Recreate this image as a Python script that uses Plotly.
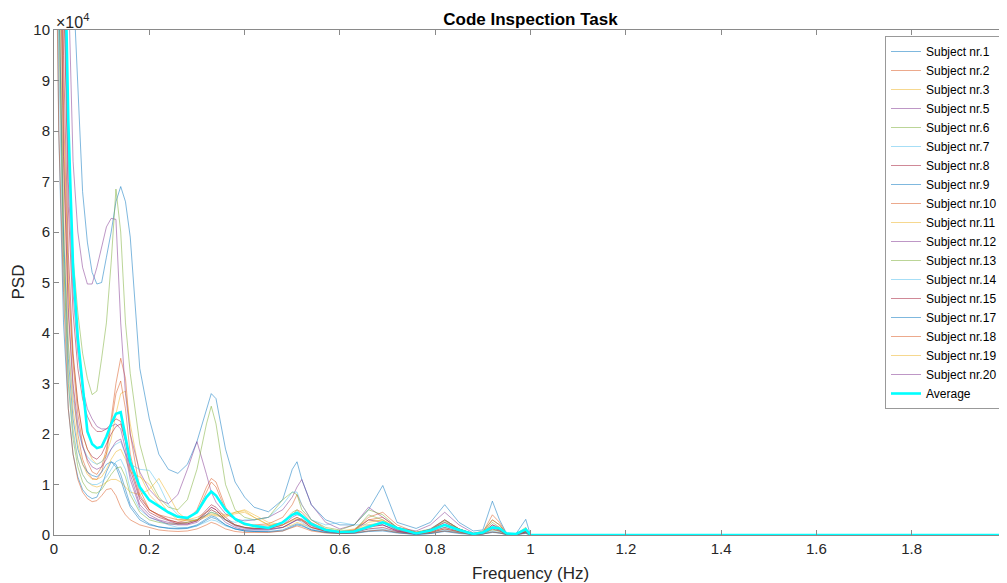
import plotly.graph_objects as go

# Frequency grid (Hz)
freq = [0, 0.01, 0.02, 0.03, 0.04, 0.05, 0.06, 0.07, 0.08, 0.09,
        0.10, 0.11, 0.12, 0.13, 0.14, 0.15, 0.16, 0.18, 0.20, 0.22,
        0.24, 0.26, 0.28, 0.30, 0.32, 0.33, 0.34, 0.36, 0.38, 0.40,
        0.42, 0.45, 0.48, 0.50, 0.51, 0.52, 0.54, 0.57, 0.60, 0.63,
        0.66, 0.69, 0.72, 0.76, 0.79, 0.82, 0.85, 0.88, 0.90, 0.92,
        0.935, 0.95, 0.97, 0.99, 1.0, 2.0]

# PSD values in units of 1e4
s1 = [60, 45, 30, 18, 11, 8.8, 6.8, 5.8, 5.2, 4.97,
      5.0, 5.5, 6.0, 6.6, 6.9, 6.6, 5.9, 3.3, 2.3, 1.6,
      1.3, 1.22, 1.4, 1.85, 2.5, 2.8, 2.7, 1.7, 1.05, 0.75,
      0.55, 0.46, 0.7, 1.3, 1.45, 1.1, 0.6, 0.3, 0.2, 0.2,
      0.5, 0.98, 0.25, 0.13, 0.25, 0.6, 0.25, 0.08, 0.1, 0.67,
      0.3, 0.03, 0.03, 0.31, 0, 0]
s2 = [35, 16, 8.5, 5.0, 3.4, 2.4, 1.8, 1.45, 1.25, 1.2,
      1.35, 1.7, 2.3, 3.0, 3.5, 3.1, 2.0, 0.9, 0.5, 0.38,
      0.3, 0.25, 0.3, 0.5, 0.95, 1.12, 1.05, 0.55, 0.3, 0.22,
      0.2, 0.22, 0.35, 0.6, 0.8, 0.6, 0.3, 0.12, 0.07, 0.1,
      0.3, 0.35, 0.15, 0.05, 0.1, 0.25, 0.12, 0.02, 0.05, 0.4,
      0.25, 0.02, 0.02, 0.12, 0, 0]
s3 = [28, 14, 8.0, 5.0, 3.5, 2.6, 2.0, 1.7, 1.5, 1.4,
      1.45, 1.6, 1.9, 2.4, 2.8, 2.85, 2.2, 1.2, 0.8, 0.6,
      0.45, 0.35, 0.3, 0.35, 0.45, 0.5, 0.45, 0.4, 0.45, 0.5,
      0.4, 0.25, 0.2, 0.3, 0.35, 0.3, 0.2, 0.12, 0.08, 0.12,
      0.3, 0.28, 0.12, 0.05, 0.1, 0.2, 0.1, 0.02, 0.04, 0.15,
      0.1, 0.02, 0.02, 0.08, 0, 0]
s5 = [45, 30, 15, 11, 7.4, 6.0, 5.3, 4.97, 4.97, 5.3,
      5.7, 6.1, 6.27, 6.25, 4.2, 2.8, 2.0, 1.25, 0.9, 0.7,
      0.62, 0.8, 1.3, 1.85, 1.2, 0.85, 0.65, 0.42, 0.32, 0.28,
      0.3, 0.35, 0.5, 0.75, 0.95, 1.1, 0.6, 0.25, 0.12, 0.2,
      0.55, 0.35, 0.15, 0.08, 0.2, 0.45, 0.2, 0.04, 0.06, 0.2,
      0.15, 0.02, 0.02, 0.12, 0, 0]
s6 = [30, 18, 11, 7.5, 5.5, 4.4, 3.6, 3.1, 2.78, 2.85,
      3.5, 4.2, 5.4, 6.85, 6.0, 4.2, 3.2, 1.8, 1.1, 0.75,
      0.55, 0.5, 0.7, 1.3, 2.2, 2.55, 2.2, 1.0, 0.5, 0.35,
      0.3, 0.35, 0.7, 0.85, 0.8, 0.5, 0.3, 0.15, 0.1, 0.2,
      0.5, 0.4, 0.15, 0.06, 0.12, 0.3, 0.12, 0.03, 0.08, 0.3,
      0.2, 0.02, 0.02, 0.15, 0, 0]
s7 = [22, 11, 6.0, 3.8, 2.7, 2.1, 1.75, 1.55, 1.45, 1.4,
      1.45, 1.55, 1.7, 1.8, 1.85, 1.6, 1.4, 1.3, 1.28, 1.0,
      0.6, 0.4, 0.3, 0.3, 0.4, 0.45, 0.42, 0.3, 0.25, 0.3,
      0.3, 0.35, 0.6, 0.85, 0.85, 0.6, 0.3, 0.2, 0.25, 0.2,
      0.2, 0.2, 0.1, 0.04, 0.08, 0.15, 0.08, 0.02, 0.03, 0.1,
      0.08, 0.01, 0.01, 0.05, 0, 0]
s8 = [40, 20, 11, 6.5, 4.4, 3.3, 2.7, 2.35, 2.15, 2.05,
      2.05, 2.1, 2.2, 2.3, 2.25, 1.9, 1.4, 0.75, 0.5, 0.4,
      0.3, 0.25, 0.25, 0.3, 0.5, 0.6, 0.55, 0.35, 0.2, 0.15,
      0.12, 0.12, 0.2, 0.3, 0.35, 0.3, 0.15, 0.08, 0.05, 0.06,
      0.15, 0.2, 0.08, 0.02, 0.06, 0.15, 0.07, 0.01, 0.03, 0.2,
      0.12, 0.01, 0.01, 0.07, 0, 0]
s9 = [18, 8.0, 4.2, 2.5, 1.6, 1.15, 0.9, 0.78, 0.72, 0.75,
      0.95, 1.25, 1.45, 1.4, 1.2, 0.9, 0.6, 0.35, 0.22, 0.16,
      0.13, 0.12, 0.13, 0.18, 0.3, 0.35, 0.32, 0.2, 0.12, 0.08,
      0.07, 0.07, 0.1, 0.18, 0.22, 0.2, 0.1, 0.05, 0.03, 0.04,
      0.08, 0.1, 0.05, 0.01, 0.03, 0.08, 0.04, 0.01, 0.02, 0.06,
      0.04, 0.01, 0.01, 0.04, 0, 0]
s10 = [32, 15, 7.5, 4.4, 2.9, 2.0, 1.5, 1.25, 1.12, 1.1,
       1.25, 1.6, 2.2, 2.8, 3.05, 2.5, 1.6, 0.8, 0.5, 0.4,
       0.35, 0.3, 0.32, 0.45, 0.85, 1.05, 0.95, 0.5, 0.3, 0.2,
       0.18, 0.18, 0.25, 0.4, 0.5, 0.45, 0.25, 0.1, 0.06, 0.1,
       0.35, 0.45, 0.2, 0.05, 0.1, 0.3, 0.12, 0.02, 0.05, 0.3,
       0.2, 0.02, 0.02, 0.1, 0, 0]
s11 = [20, 10, 5.5, 3.2, 2.1, 1.5, 1.2, 1.05, 0.98, 0.95,
       0.98, 1.05, 1.1, 1.1, 1.05, 0.95, 0.85, 0.8, 0.9, 1.12,
       0.8, 0.45, 0.3, 0.28, 0.35, 0.4, 0.38, 0.35, 0.45, 0.48,
       0.35, 0.2, 0.15, 0.2, 0.25, 0.22, 0.15, 0.08, 0.05, 0.08,
       0.2, 0.25, 0.1, 0.03, 0.06, 0.12, 0.06, 0.01, 0.03, 0.1,
       0.07, 0.01, 0.01, 0.06, 0, 0]
s12 = [45, 22, 12, 7.0, 4.8, 3.6, 2.9, 2.5, 2.3, 2.15,
       2.1, 2.1, 2.15, 2.2, 2.1, 1.7, 1.2, 0.6, 0.4, 0.3,
       0.25, 0.22, 0.22, 0.28, 0.45, 0.55, 0.5, 0.3, 0.18, 0.13,
       0.12, 0.13, 0.2, 0.35, 0.4, 0.38, 0.2, 0.08, 0.05, 0.08,
       0.3, 0.25, 0.1, 0.03, 0.12, 0.3, 0.12, 0.02, 0.04, 0.15,
       0.1, 0.01, 0.01, 0.08, 0, 0]
s13 = [25, 11, 5.5, 3.0, 1.9, 1.35, 1.05, 0.9, 0.84, 0.83,
       0.9, 1.05, 1.2, 1.32, 1.35, 1.15, 0.8, 0.45, 0.3, 0.25,
       0.22, 0.22, 0.25, 0.3, 0.4, 0.45, 0.42, 0.3, 0.2, 0.15,
       0.14, 0.15, 0.25, 0.45, 0.5, 0.4, 0.2, 0.1, 0.06, 0.08,
       0.4, 0.3, 0.12, 0.04, 0.1, 0.28, 0.12, 0.02, 0.04, 0.25,
       0.15, 0.01, 0.01, 0.1, 0, 0]
s14 = [20, 9.5, 5.0, 3.0, 2.0, 1.5, 1.2, 1.05, 1.0, 1.0,
       1.05, 1.15, 1.3, 1.45, 1.5, 1.3, 0.9, 0.5, 0.35, 0.28,
       0.2, 0.15, 0.15, 0.18, 0.25, 0.3, 0.28, 0.18, 0.12, 0.1,
       0.1, 0.1, 0.15, 0.25, 0.3, 0.25, 0.12, 0.06, 0.04, 0.05,
       0.12, 0.12, 0.06, 0.02, 0.04, 0.1, 0.05, 0.01, 0.02, 0.08,
       0.05, 0.01, 0.01, 0.04, 0, 0]
s15 = [38, 18, 9.5, 5.6, 3.6, 2.6, 2.0, 1.7, 1.55, 1.5,
       1.6, 1.8, 2.0, 2.15, 2.2, 1.85, 1.3, 0.7, 0.45, 0.35,
       0.28, 0.22, 0.22, 0.28, 0.45, 0.55, 0.5, 0.3, 0.2, 0.15,
       0.13, 0.12, 0.15, 0.25, 0.3, 0.28, 0.15, 0.07, 0.04, 0.05,
       0.12, 0.15, 0.07, 0.02, 0.05, 0.12, 0.06, 0.01, 0.03, 0.15,
       0.1, 0.01, 0.01, 0.06, 0, 0]
s17 = [24, 11, 6.0, 3.5, 2.3, 1.7, 1.4, 1.25, 1.18, 1.15,
       1.25, 1.4, 1.45, 1.35, 1.1, 0.8, 0.55, 0.3, 0.2, 0.16,
       0.14, 0.13, 0.14, 0.2, 0.32, 0.38, 0.35, 0.2, 0.12, 0.08,
       0.07, 0.06, 0.08, 0.15, 0.2, 0.18, 0.1, 0.05, 0.03, 0.03,
       0.07, 0.08, 0.04, 0.01, 0.03, 0.07, 0.03, 0.01, 0.02, 0.05,
       0.04, 0.01, 0.01, 0.03, 0, 0]
s18 = [15, 8.0, 4.8, 2.5, 1.6, 1.1, 0.85, 0.72, 0.66, 0.68,
       0.78, 0.9, 0.92, 0.78, 0.55, 0.4, 0.3, 0.2, 0.15, 0.1,
       0.08, 0.07, 0.08, 0.12, 0.2, 0.25, 0.22, 0.12, 0.07, 0.05,
       0.05, 0.05, 0.08, 0.15, 0.18, 0.15, 0.08, 0.04, 0.03, 0.04,
       0.08, 0.1, 0.05, 0.02, 0.04, 0.08, 0.04, 0.01, 0.02, 0.06,
       0.04, 0.01, 0.01, 0.04, 0, 0]
s19 = [26, 12, 6.5, 3.8, 2.5, 1.8, 1.4, 1.2, 1.1, 1.1,
       1.15, 1.3, 1.5, 1.65, 1.7, 1.5, 1.25, 1.15, 1.0, 0.7,
       0.45, 0.3, 0.28, 0.3, 0.38, 0.42, 0.4, 0.38, 0.42, 0.45,
       0.35, 0.2, 0.2, 0.28, 0.32, 0.3, 0.2, 0.1, 0.06, 0.08,
       0.25, 0.3, 0.15, 0.04, 0.08, 0.2, 0.1, 0.02, 0.03, 0.12,
       0.08, 0.01, 0.01, 0.07, 0, 0]
s20 = [30, 14, 7.5, 4.5, 3.0, 2.2, 1.75, 1.5, 1.35, 1.3,
       1.35, 1.5, 1.7, 1.85, 1.9, 1.6, 1.1, 0.55, 0.35, 0.28,
       0.22, 0.2, 0.2, 0.25, 0.4, 0.5, 0.45, 0.25, 0.15, 0.1,
       0.1, 0.1, 0.15, 0.25, 0.3, 0.32, 0.18, 0.08, 0.05, 0.06,
       0.18, 0.2, 0.08, 0.02, 0.1, 0.25, 0.1, 0.01, 0.03, 0.12,
       0.08, 0.01, 0.01, 0.06, 0, 0]
average = [40, 25, 13, 8.2, 5.3, 3.9, 2.9, 2.05, 1.8, 1.72,
           1.75, 1.95, 2.2, 2.4, 2.43, 1.95, 1.45, 0.95, 0.69, 0.57,
           0.45, 0.36, 0.34, 0.45, 0.75, 0.86, 0.78, 0.5, 0.32, 0.22,
           0.18, 0.14, 0.25, 0.4, 0.44, 0.38, 0.22, 0.1, 0.06, 0.07,
           0.16, 0.25, 0.14, 0.03, 0.09, 0.2, 0.1, 0.02, 0.05, 0.15,
           0.13, 0.03, 0.02, 0.11, 0, 0]

subject_names = ["Subject nr.1", "Subject nr.2", "Subject nr.3", "Subject nr.5",
                 "Subject nr.6", "Subject nr.7", "Subject nr.8", "Subject nr.9",
                 "Subject nr.10", "Subject nr.11", "Subject nr.12", "Subject nr.13",
                 "Subject nr.14", "Subject nr.15", "Subject nr.17", "Subject nr.18",
                 "Subject nr.19", "Subject nr.20"]
subject_values = [s1, s2, s3, s5, s6, s7, s8, s9, s10, s11, s12, s13,
                  s14, s15, s17, s18, s19, s20]

x_ticks = [0, 0.2, 0.4, 0.6, 0.8, 1, 1.2, 1.4, 1.6, 1.8, 2]
x_tick_labels = ["0", "0.2", "0.4", "0.6", "0.8", "1", "1.2", "1.4", "1.6", "1.8", "2"]
y_ticks = [0, 1, 2, 3, 4, 5, 6, 7, 8, 9, 10]
y_tick_labels = ["0", "1", "2", "3", "4", "5", "6", "7", "8", "9", "10"]

palette = [(0, 114, 189), (217, 83, 25), (237, 177, 32), (126, 47, 142),
           (119, 172, 48), (77, 190, 238), (162, 20, 47)]
alpha = 0.5

fig = go.Figure()
for i, (name, vals) in enumerate(zip(subject_names, subject_values)):
    r, g, b = palette[i % len(palette)]
    fig.add_trace(go.Scatter(
        x=freq, y=vals, mode="lines", name=name,
        line=dict(color=f"rgba({r},{g},{b},{alpha})", width=1),
    ))
fig.add_trace(go.Scatter(
    x=freq, y=average, mode="lines", name="Average",
    line=dict(color="#00FFFF", width=2.6),
))

font_family = "Liberation Sans, Arial, sans-serif"
axis_col = "#262626"
line_col = "#8a8a8a"
# The page body has an 8 px default margin; the figure is sized/offset to fit.
OFF = 8
W, H = 1007 - OFF, 583 - OFF
ML, MT = 54 - OFF, 30 - OFF
MR, MB = 0, H - (535 - OFF)
PW, PH = W - ML - MR, H - MT - MB

fig.update_layout(
    width=W, height=H,
    margin=dict(l=ML, r=MR, t=MT, b=MB, autoexpand=False),
    paper_bgcolor="white", plot_bgcolor="white",
    font=dict(family=font_family, size=14, color=axis_col),
    title=dict(text="<b>Code Inspection Task</b>", x=0.5, xref="paper",
               y=1 - (19 - OFF) / H, yref="container", yanchor="middle",
               font=dict(size=17, color="#000000")),
    showlegend=True,
    legend=dict(x=(1003 - OFF - ML) / PW, y=1 - (36 - 30) / PH,
                xanchor="right", yanchor="top",
                bgcolor="white", bordercolor="#999999", borderwidth=1,
                font=dict(size=12, color="#000000"), tracegroupgap=0,
                itemwidth=30),
)
fig.update_xaxes(
    range=[0, 2], tickvals=x_ticks, ticktext=x_tick_labels, automargin=False,
    showgrid=False, zeroline=False, showline=True, linecolor=line_col, linewidth=1,
    mirror="ticks", ticks="inside", ticklen=5, tickcolor=line_col,
    tickfont=dict(size=15, color=axis_col), ticklabeloverflow="allow",
)
fig.update_yaxes(
    range=[0, 10], tickvals=y_ticks, ticktext=y_tick_labels, automargin=False,
    showgrid=False, zeroline=False, showline=True, linecolor=line_col, linewidth=1,
    mirror="ticks", ticks="inside", ticklen=5, tickcolor=line_col,
    tickfont=dict(size=15, color=axis_col),
)
fig.add_annotation(text="Frequency (Hz)", xref="paper", yref="paper",
                   x=0.5, y=-(573 - 535) / PH, xanchor="center", yanchor="middle",
                   showarrow=False, font=dict(size=17, color=axis_col))
fig.add_annotation(text="PSD", xref="paper", yref="paper",
                   x=-(54 - 18) / PW, y=0.5, xanchor="center", yanchor="middle",
                   textangle=-90, showarrow=False, font=dict(size=17, color=axis_col))
fig.add_annotation(text="×10<sup>4</sup>", xref="paper", yref="paper", x=0, y=1,
                   xanchor="left", yanchor="bottom", showarrow=False,
                   font=dict(size=16, color=axis_col), yshift=-3)

fig.write_html("out.html")
